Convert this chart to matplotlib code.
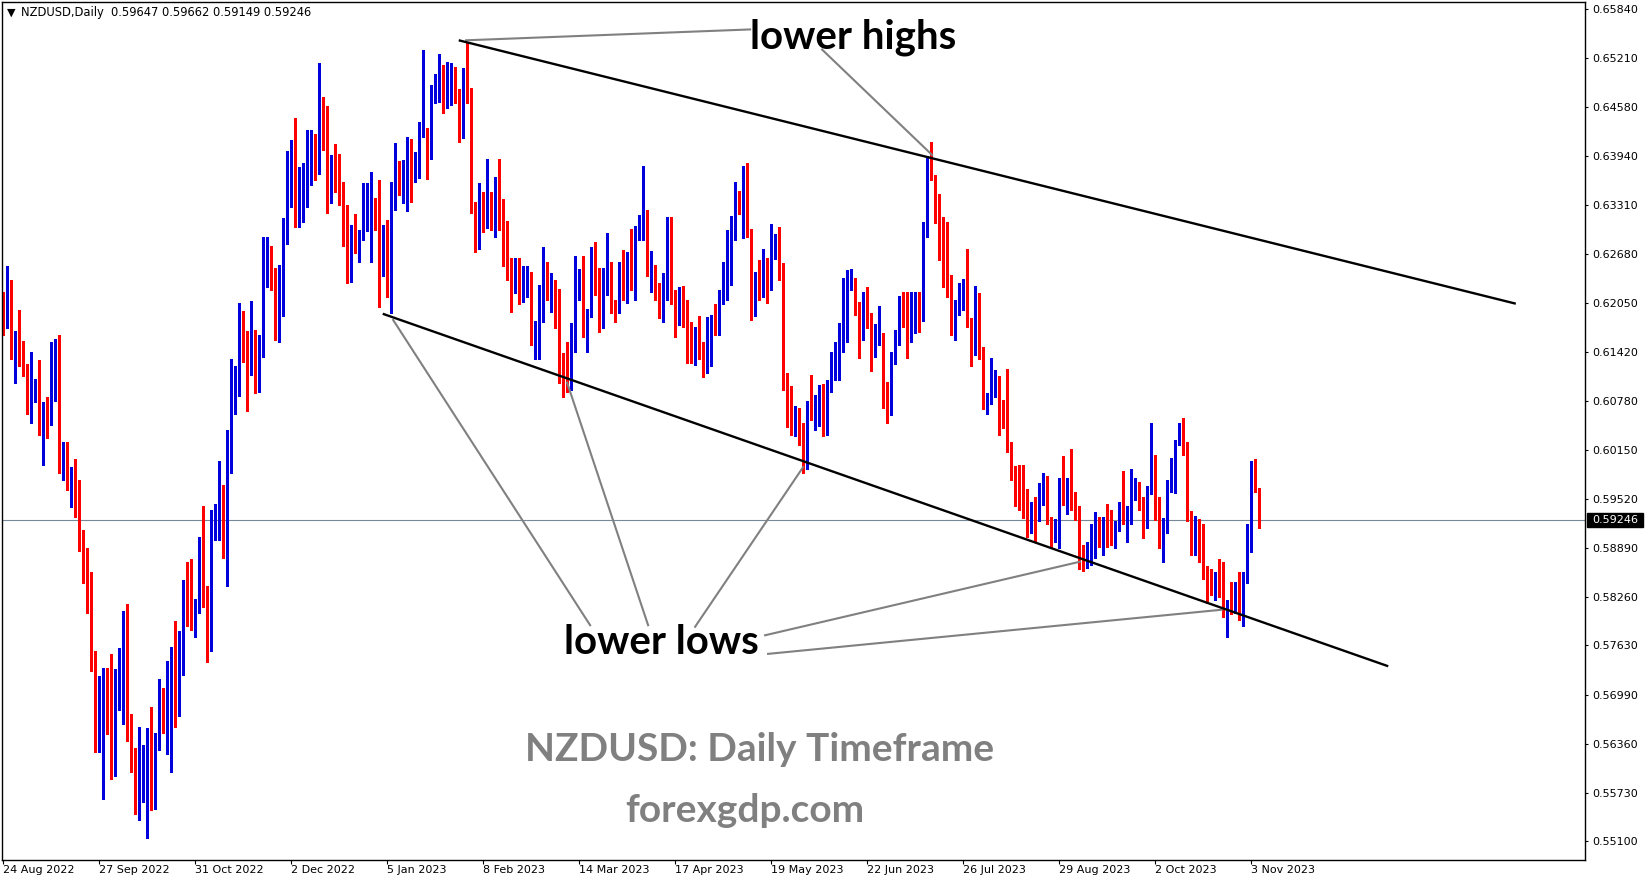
import numpy as np
import matplotlib
matplotlib.use("Agg")
import matplotlib.pyplot as plt
from matplotlib.patches import Rectangle

# NZDUSD daily bars, 24 Aug 2022 .. 7 Nov 2023
opens = [
    0.6212, 0.6175, 0.6232, 0.6124, 0.6150, 0.6123, 0.6117, 0.6075, 0.6080, 0.6088,
    0.6040, 0.6074, 0.6049, 0.6081, 0.6139, 0.5990, 0.6004, 0.5964, 0.5986, 0.5958,
    0.5899, 0.5853, 0.5845, 0.5745, 0.5632, 0.5630, 0.5727, 0.5720, 0.5596, 0.5720,
    0.5728, 0.5736, 0.5661, 0.5604, 0.5563, 0.5574, 0.5598, 0.5639, 0.5565, 0.5635,
    0.5683, 0.5659, 0.5678, 0.5776, 0.5692, 0.5743, 0.5830, 0.5827, 0.5799, 0.5808,
    0.5846, 0.5822, 0.5772, 0.5930, 0.5937, 0.5956, 0.5877, 0.6015, 0.6094, 0.6094,
    0.6152, 0.6143, 0.6116, 0.6154, 0.6094, 0.6150, 0.6244, 0.6264, 0.6240, 0.6157,
    0.6205, 0.6284, 0.6369, 0.6384, 0.6315, 0.6312, 0.6351, 0.6373, 0.6409, 0.6374,
    0.6463, 0.6454, 0.6342, 0.6373, 0.6360, 0.6347, 0.6293, 0.6241, 0.6288, 0.6275,
    0.6295, 0.6342, 0.6342, 0.6328, 0.6315, 0.6246, 0.6286, 0.6226, 0.6338, 0.6373,
    0.6355, 0.6366, 0.6394, 0.6374, 0.6377, 0.6426, 0.6428, 0.6394, 0.6470, 0.6489,
    0.6501, 0.6479, 0.6485, 0.6482, 0.6466, 0.6439, 0.6507, 0.6473, 0.6308, 0.6303,
    0.6324, 0.6308, 0.6324, 0.6308, 0.6355, 0.6332, 0.6276, 0.6258, 0.6222, 0.6253,
    0.6213, 0.6214, 0.6226, 0.6164, 0.6167, 0.6183, 0.6250, 0.6213, 0.6227, 0.6192,
    0.6112, 0.6108, 0.6099, 0.6145, 0.6217, 0.6235, 0.6161, 0.6188, 0.6279, 0.6228,
    0.6193, 0.6221, 0.6252, 0.6199, 0.6195, 0.6244, 0.6222, 0.6262, 0.6257, 0.6297,
    0.6310, 0.6317, 0.6245, 0.6248, 0.6219, 0.6190, 0.6215, 0.6289, 0.6212, 0.6179,
    0.6212, 0.6203, 0.6151, 0.6140, 0.6166, 0.6135, 0.6117, 0.6145, 0.6181, 0.6166,
    0.6205, 0.6230, 0.6274, 0.6289, 0.6344, 0.6332, 0.6363, 0.6299, 0.6196, 0.6235,
    0.6227, 0.6250, 0.6225, 0.6272, 0.6283, 0.6244, 0.6110, 0.6061, 0.6044, 0.6058,
    0.6045, 0.6019, 0.6071, 0.6057, 0.6075, 0.6081, 0.6037, 0.6093, 0.6111, 0.6120,
    0.6147, 0.6203, 0.6234, 0.6225, 0.6199, 0.6164, 0.6206, 0.6177, 0.6140, 0.6160,
    0.6161, 0.6076, 0.6068, 0.6132, 0.6152, 0.6192, 0.6178, 0.6155, 0.6194, 0.6209,
    0.6195, 0.6294, 0.6386, 0.6365, 0.6323, 0.6275, 0.6259, 0.6231, 0.6168, 0.6203,
    0.6209, 0.6212, 0.6185, 0.6140, 0.6210, 0.6146, 0.6071, 0.6077, 0.6089, 0.6103,
    0.6057, 0.6050, 0.6025, 0.5985, 0.5974, 0.5952, 0.5934, 0.5921, 0.5929, 0.5925,
    0.5945, 0.5977, 0.5923, 0.5902, 0.5903, 0.5968, 0.5958, 0.5968, 0.5942, 0.5941,
    0.5879, 0.5870, 0.5874, 0.5881, 0.5915, 0.5905, 0.5914, 0.5912, 0.5893, 0.5914,
    0.5934, 0.5926, 0.5932, 0.5956, 0.5960, 0.5942, 0.5917, 0.5961, 0.5994, 0.5932,
    0.5908, 0.5914, 0.5965, 0.5987, 0.6023, 0.6045, 0.6021, 0.5929, 0.5884, 0.5925,
    0.5893, 0.5856, 0.5849, 0.5826, 0.5848, 0.5844, 0.5803, 0.5821, 0.5807, 0.5843,
    0.5803, 0.5846, 0.5898, 0.5991, 0.59647,
]
highs = [
    0.6219, 0.6253, 0.6234, 0.6169, 0.6196, 0.6156, 0.6126, 0.6141, 0.6107, 0.6131,
    0.6077, 0.6083, 0.6154, 0.6159, 0.6163, 0.6026, 0.6026, 0.5993, 0.6003, 0.5977,
    0.5912, 0.5889, 0.5858, 0.5756, 0.5723, 0.5734, 0.5734, 0.5752, 0.5732, 0.5760,
    0.5807, 0.5816, 0.5675, 0.5631, 0.5658, 0.5634, 0.5656, 0.5683, 0.5650, 0.5720,
    0.5708, 0.5743, 0.5761, 0.5794, 0.5781, 0.5847, 0.5871, 0.5875, 0.5823, 0.5903,
    0.5943, 0.5840, 0.5938, 0.5945, 0.6001, 0.5970, 0.6041, 0.6132, 0.6123, 0.6205,
    0.6195, 0.6169, 0.6208, 0.6170, 0.6164, 0.6290, 0.6290, 0.6279, 0.6250, 0.6254,
    0.6315, 0.6401, 0.6415, 0.6444, 0.6381, 0.6386, 0.6428, 0.6428, 0.6423, 0.6515,
    0.6471, 0.6459, 0.6396, 0.6410, 0.6397, 0.6361, 0.6332, 0.6306, 0.6320, 0.6299,
    0.6360, 0.6360, 0.6374, 0.6341, 0.6364, 0.6305, 0.6312, 0.6361, 0.6412, 0.6388,
    0.6390, 0.6419, 0.6417, 0.6400, 0.6439, 0.6532, 0.6431, 0.6486, 0.6500, 0.6526,
    0.6512, 0.6516, 0.6515, 0.6510, 0.6481, 0.6508, 0.6542, 0.6482, 0.6335, 0.6360,
    0.6348, 0.6391, 0.6348, 0.6368, 0.6391, 0.6339, 0.6311, 0.6263, 0.6263, 0.6263,
    0.6253, 0.6253, 0.6245, 0.6182, 0.6228, 0.6277, 0.6258, 0.6243, 0.6235, 0.6223,
    0.6140, 0.6154, 0.6179, 0.6266, 0.6249, 0.6266, 0.6197, 0.6277, 0.6283, 0.6250,
    0.6250, 0.6295, 0.6258, 0.6209, 0.6258, 0.6273, 0.6271, 0.6301, 0.6304, 0.6319,
    0.6382, 0.6325, 0.6272, 0.6254, 0.6231, 0.6243, 0.6316, 0.6316, 0.6222, 0.6226,
    0.6227, 0.6209, 0.6181, 0.6174, 0.6188, 0.6154, 0.6187, 0.6190, 0.6203, 0.6222,
    0.6258, 0.6299, 0.6317, 0.6361, 0.6350, 0.6382, 0.6386, 0.6300, 0.6245, 0.6261,
    0.6274, 0.6263, 0.6307, 0.6294, 0.6303, 0.6257, 0.6115, 0.6098, 0.6072, 0.6070,
    0.6050, 0.6079, 0.6112, 0.6086, 0.6099, 0.6100, 0.6106, 0.6141, 0.6154, 0.6179,
    0.6237, 0.6248, 0.6249, 0.6237, 0.6206, 0.6219, 0.6225, 0.6192, 0.6178, 0.6201,
    0.6166, 0.6103, 0.6141, 0.6170, 0.6214, 0.6219, 0.6219, 0.6219, 0.6219, 0.6219,
    0.6310, 0.6395, 0.6413, 0.6370, 0.6346, 0.6316, 0.6310, 0.6241, 0.6209, 0.6231,
    0.6236, 0.6275, 0.6186, 0.6227, 0.6218, 0.6148, 0.6089, 0.6134, 0.6119, 0.6111,
    0.6080, 0.6120, 0.6026, 0.5995, 0.5996, 0.5996, 0.5965, 0.5948, 0.5955, 0.5973,
    0.5986, 0.5982, 0.5929, 0.5926, 0.5979, 0.6008, 0.5979, 0.6017, 0.5961, 0.5943,
    0.5893, 0.5896, 0.5919, 0.5935, 0.5929, 0.5929, 0.5946, 0.5938, 0.5923, 0.5948,
    0.5988, 0.5943, 0.5990, 0.5979, 0.5974, 0.5955, 0.5969, 0.6050, 0.6009, 0.5955,
    0.5928, 0.5976, 0.6005, 0.6028, 0.6050, 0.6057, 0.6026, 0.5936, 0.5930, 0.5926,
    0.5920, 0.5865, 0.5861, 0.5858, 0.5874, 0.5871, 0.5822, 0.5845, 0.5845, 0.5858,
    0.5858, 0.5919, 0.6001, 0.6003, 0.59662,
]
lows = [
    0.6164, 0.6173, 0.6133, 0.6102, 0.6124, 0.6111, 0.6061, 0.6050, 0.6077, 0.6035,
    0.5996, 0.6031, 0.6047, 0.6079, 0.5986, 0.5977, 0.5963, 0.5941, 0.5929, 0.5885,
    0.5843, 0.5805, 0.5730, 0.5625, 0.5625, 0.5565, 0.5649, 0.5591, 0.5594, 0.5680,
    0.5661, 0.5640, 0.5599, 0.5545, 0.5537, 0.5561, 0.5514, 0.5551, 0.5552, 0.5628,
    0.5650, 0.5623, 0.5600, 0.5657, 0.5672, 0.5725, 0.5788, 0.5783, 0.5774, 0.5805,
    0.5813, 0.5741, 0.5756, 0.5899, 0.5899, 0.5876, 0.5840, 0.5986, 0.6062, 0.6085,
    0.6129, 0.6065, 0.6112, 0.6089, 0.6090, 0.6135, 0.6226, 0.6222, 0.6157, 0.6155,
    0.6188, 0.6281, 0.6329, 0.6303, 0.6303, 0.6310, 0.6329, 0.6357, 0.6364, 0.6372,
    0.6403, 0.6321, 0.6334, 0.6348, 0.6332, 0.6278, 0.6231, 0.6232, 0.6270, 0.6258,
    0.6286, 0.6298, 0.6258, 0.6299, 0.6200, 0.6240, 0.6213, 0.6192, 0.6325, 0.6344,
    0.6334, 0.6323, 0.6335, 0.6361, 0.6366, 0.6419, 0.6365, 0.6391, 0.6463, 0.6464,
    0.6450, 0.6457, 0.6461, 0.6463, 0.6413, 0.6418, 0.6463, 0.6321, 0.6271, 0.6275,
    0.6297, 0.6302, 0.6299, 0.6290, 0.6299, 0.6253, 0.6234, 0.6193, 0.6218, 0.6203,
    0.6206, 0.6212, 0.6151, 0.6132, 0.6133, 0.6181, 0.6209, 0.6193, 0.6173, 0.6102,
    0.6084, 0.6090, 0.6093, 0.6142, 0.6209, 0.6161, 0.6141, 0.6187, 0.6215, 0.6168,
    0.6173, 0.6215, 0.6192, 0.6181, 0.6192, 0.6209, 0.6205, 0.6222, 0.6209, 0.6286,
    0.6286, 0.6240, 0.6219, 0.6209, 0.6186, 0.6181, 0.6209, 0.6203, 0.6161, 0.6177,
    0.6174, 0.6128, 0.6128, 0.6125, 0.6133, 0.6110, 0.6115, 0.6123, 0.6164, 0.6163,
    0.6203, 0.6209, 0.6228, 0.6286, 0.6320, 0.6289, 0.6290, 0.6183, 0.6188, 0.6209,
    0.6212, 0.6205, 0.6222, 0.6262, 0.6235, 0.6093, 0.6045, 0.6035, 0.6033, 0.6021,
    0.5986, 0.5990, 0.6054, 0.6041, 0.6046, 0.6033, 0.6034, 0.6090, 0.6106, 0.6106,
    0.6142, 0.6155, 0.6222, 0.6190, 0.6134, 0.6157, 0.6173, 0.6117, 0.6135, 0.6151,
    0.6070, 0.6050, 0.6060, 0.6126, 0.6151, 0.6174, 0.6134, 0.6154, 0.6166, 0.6168,
    0.6182, 0.6290, 0.6364, 0.6308, 0.6261, 0.6225, 0.6213, 0.6164, 0.6157, 0.6190,
    0.6196, 0.6174, 0.6123, 0.6138, 0.6132, 0.6068, 0.6061, 0.6074, 0.6083, 0.6035,
    0.6044, 0.6013, 0.5976, 0.5943, 0.5938, 0.5928, 0.5903, 0.5908, 0.5897, 0.5923,
    0.5944, 0.5919, 0.5889, 0.5896, 0.5889, 0.5944, 0.5932, 0.5938, 0.5925, 0.5861,
    0.5859, 0.5863, 0.5867, 0.5876, 0.5890, 0.5880, 0.5890, 0.5893, 0.5889, 0.5910,
    0.5919, 0.5896, 0.5919, 0.5951, 0.5938, 0.5901, 0.5915, 0.5958, 0.5925, 0.5889,
    0.5871, 0.5908, 0.5961, 0.5960, 0.6021, 0.6009, 0.5923, 0.5880, 0.5880, 0.5871,
    0.5848, 0.5818, 0.5828, 0.5822, 0.5826, 0.5800, 0.5774, 0.5803, 0.5805, 0.5796,
    0.5788, 0.5844, 0.5884, 0.5961, 0.59149,
]
closes = [
    0.6187, 0.6234, 0.6134, 0.6154, 0.6128, 0.6114, 0.6079, 0.6114, 0.6094, 0.6036,
    0.6075, 0.6053, 0.6105, 0.6137, 0.5994, 0.6004, 0.5965, 0.5991, 0.5958, 0.5890,
    0.5852, 0.5845, 0.5743, 0.5632, 0.5638, 0.5730, 0.5725, 0.5594, 0.5723, 0.5732,
    0.5738, 0.5654, 0.5603, 0.5564, 0.5582, 0.5608, 0.5638, 0.5559, 0.5635, 0.5680,
    0.5667, 0.5678, 0.5759, 0.5693, 0.5751, 0.5835, 0.5826, 0.5813, 0.5809, 0.5846,
    0.5822, 0.5772, 0.5930, 0.5937, 0.5952, 0.5883, 0.6018, 0.6119, 0.6096, 0.6157,
    0.6147, 0.6129, 0.6151, 0.6101, 0.6154, 0.6244, 0.6264, 0.6249, 0.6161, 0.6196,
    0.6303, 0.6366, 0.6410, 0.6312, 0.6320, 0.6353, 0.6374, 0.6418, 0.6381, 0.6464,
    0.6453, 0.6342, 0.6379, 0.6364, 0.6344, 0.6294, 0.6250, 0.6284, 0.6275, 0.6295,
    0.6344, 0.6346, 0.6344, 0.6315, 0.6252, 0.6294, 0.6231, 0.6348, 0.6373, 0.6364,
    0.6366, 0.6395, 0.6386, 0.6381, 0.6428, 0.6440, 0.6395, 0.6472, 0.6488, 0.6504,
    0.6479, 0.6489, 0.6494, 0.6468, 0.6439, 0.6507, 0.6476, 0.6324, 0.6305, 0.6326,
    0.6308, 0.6328, 0.6310, 0.6357, 0.6334, 0.6281, 0.6257, 0.6213, 0.6253, 0.6213,
    0.6219, 0.6230, 0.6166, 0.6169, 0.6186, 0.6257, 0.6218, 0.6223, 0.6197, 0.6110,
    0.6106, 0.6102, 0.6134, 0.6219, 0.6234, 0.6163, 0.6192, 0.6268, 0.6225, 0.6193,
    0.6221, 0.6253, 0.6203, 0.6196, 0.6253, 0.6226, 0.6263, 0.6255, 0.6299, 0.6312,
    0.6319, 0.6245, 0.6253, 0.6219, 0.6193, 0.6215, 0.6298, 0.6209, 0.6183, 0.6218,
    0.6203, 0.6151, 0.6140, 0.6167, 0.6135, 0.6116, 0.6148, 0.6183, 0.6166, 0.6208,
    0.6231, 0.6283, 0.6295, 0.6346, 0.6334, 0.6366, 0.6299, 0.6192, 0.6240, 0.6230,
    0.6237, 0.6214, 0.6275, 0.6288, 0.6248, 0.6112, 0.6061, 0.6048, 0.6057, 0.6045,
    0.6019, 0.6074, 0.6057, 0.6075, 0.6081, 0.6037, 0.6097, 0.6130, 0.6124, 0.6150,
    0.6209, 0.6236, 0.6236, 0.6200, 0.6168, 0.6206, 0.6177, 0.6141, 0.6165, 0.6163,
    0.6074, 0.6068, 0.6135, 0.6152, 0.6191, 0.6178, 0.6156, 0.6210, 0.6212, 0.6197,
    0.6298, 0.6392, 0.6370, 0.6324, 0.6271, 0.6261, 0.6232, 0.6168, 0.6203, 0.6222,
    0.6215, 0.6181, 0.6155, 0.6209, 0.6148, 0.6079, 0.6077, 0.6098, 0.6107, 0.6065,
    0.6053, 0.6021, 0.5985, 0.5974, 0.5948, 0.5937, 0.5924, 0.5924, 0.5926, 0.5945,
    0.5979, 0.5923, 0.5903, 0.5911, 0.5972, 0.5958, 0.5967, 0.5941, 0.5938, 0.5883,
    0.5874, 0.5876, 0.5884, 0.5920, 0.5905, 0.5919, 0.5911, 0.5898, 0.5918, 0.5934,
    0.5929, 0.5932, 0.5961, 0.5968, 0.5943, 0.5923, 0.5963, 0.5999, 0.5929, 0.5908,
    0.5912, 0.5968, 0.5990, 0.6023, 0.6046, 0.6019, 0.5925, 0.5884, 0.5929, 0.5897,
    0.5857, 0.5849, 0.5845, 0.5846, 0.5844, 0.5802, 0.5821, 0.5807, 0.5843, 0.5800,
    0.5848, 0.5899, 0.5995, 0.5965, 0.59246,
]

# date labels every 24 bars
date_labels = ["24 Aug 2022", "27 Sep 2022", "31 Oct 2022", "2 Dec 2022", "5 Jan 2023",
               "8 Feb 2023", "14 Mar 2023", "17 Apr 2023", "19 May 2023", "22 Jun 2023",
               "26 Jul 2023", "29 Aug 2023", "2 Oct 2023", "3 Nov 2023"]
price_ticks = [0.65840, 0.65210, 0.64580, 0.63940, 0.63310, 0.62680, 0.62050, 0.61420,
               0.60780, 0.60150, 0.59520, 0.58890, 0.58260, 0.57630, 0.56990, 0.56360,
               0.55730, 0.55100]

# drawn objects: (bar index, price) anchors
upper_trend = [(113.9, 0.6544), (378.2, 0.6204)]
lower_trend = [(94.9, 0.6191), (346.3, 0.5736)]
highs_pointers = [[(115.75, 0.6544), (186.75, 0.6558)],
                  [(204.75, 0.6532), (232.25, 0.6396)]]
lows_pointers = [[(97.5, 0.6183), (146.75, 0.5789)],
                 [(141.0, 0.6102), (161.25, 0.5789)],
                 [(200.0, 0.5993), (173.0, 0.5787)],
                 [(269.25, 0.5871), (190.5, 0.5776)],
                 [(304.75, 0.5809), (191.25, 0.5752)]]

BULL = "#0000DD"
BEAR = "#FF0000"
W, H = 1649, 884

fig = plt.figure(figsize=(W / 100, H / 100), dpi=100)
ax = fig.add_axes([2 / W, 24 / H, 1583 / W, 858 / H])

o = np.array(opens)
c = np.array(closes)
x = np.arange(len(c))
colors = np.where(c >= o, BULL, BEAR)

# current bid line under the candles
ax.axhline(c[-1], color="#778899", lw=0.8, zorder=1)

ax.vlines(x, lows, highs, colors=colors, lw=0.75, antialiased=False, zorder=2)
body = np.maximum(np.abs(c - o), 0.00013)
ax.bar(x, body, width=0.75, bottom=np.minimum(o, c), color=colors, lw=0,
       antialiased=False, zorder=2)

for seg in (upper_trend, lower_trend):
    xs, ys = zip(*seg)
    ax.plot(xs, ys, color="black", lw=1.7, solid_capstyle="butt", zorder=4)
for seg in highs_pointers + lows_pointers:
    xs, ys = zip(*seg)
    ax.plot(xs, ys, color="#808080", lw=1.5, zorder=3)

big = dict(family="Lato", fontweight="bold")
ax.text(186.6, 0.65336, "lower highs", color="black", ha="left", va="baseline",
        fontsize=29, **big)
ax.text(140.2, 0.57517, "lower lows", color="black", ha="left", va="baseline",
        fontsize=29, **big)
ax.text(189.0, 0.56137, "NZDUSD: Daily Timeframe", color="#808080", ha="center",
        va="baseline", fontsize=28, **big)
ax.text(185.5, 0.55350, "forexgdp.com", color="#808080", ha="center", va="baseline",
        fontsize=28, **big)

ax.set_xlim(-0.3, 395.5)
ax.set_ylim(0.548592, 0.659342)

ax.set_xticks(np.arange(len(date_labels)) * 24)
ax.set_xticklabels(date_labels, ha="left")
ax.yaxis.tick_right()
ax.set_yticks(price_ticks)
ax.set_yticklabels([f"{p:.5f}" for p in price_ticks])
ax.tick_params(axis="x", direction="out", length=3, width=0.8, pad=0.5, labelsize=8)
ax.tick_params(axis="y", direction="out", length=2.5, width=0.8, pad=3, labelsize=8)
for s in ax.spines.values():
    s.set_linewidth(1.0)
    s.set_color("black")

# bid price box on the price scale
bt = ax.get_yaxis_transform()
ax.add_patch(Rectangle((1.0012, c[-1] - 0.00087), 0.0354, 0.00174, transform=bt,
                       color="black", clip_on=False, zorder=5))
ax.text(1.0044, c[-1], f"{c[-1]:.5f}", transform=bt, color="white", fontsize=8,
        ha="left", va="center", zorder=6, clip_on=False)

# header line
fig.text(7 / W, 1 - 12.5 / H, "\u25bc", fontsize=8, va="center", ha="left")
fig.text(21 / W, 1 - 12.5 / H,
         f"NZDUSD,Daily  {o[-1]:.5f} {highs[-1]:.5f} {lows[-1]:.5f} {c[-1]:.5f}",
         fontsize=8.3, va="center", ha="left")

fig.savefig("out.png", dpi=100)
